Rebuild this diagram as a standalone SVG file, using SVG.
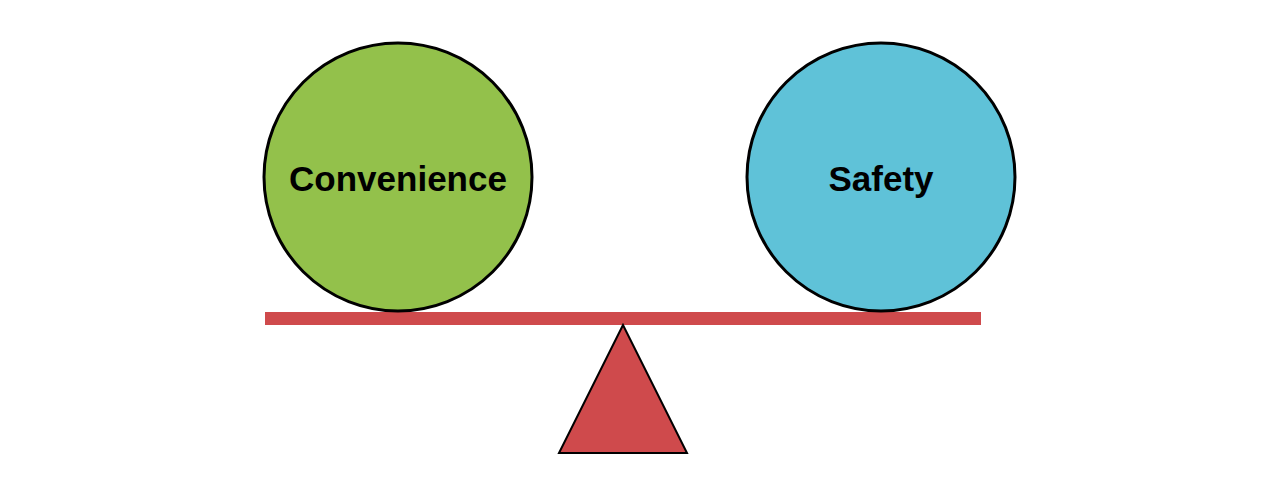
<svg xmlns="http://www.w3.org/2000/svg" width="1280" height="500" viewBox="0 0 1280 500">
<style>
.ball{stroke:#000;stroke-width:3}
.lbl{font-family:"Liberation Sans",Arial,sans-serif;font-weight:bold;font-size:35px;fill:#000;text-anchor:middle}
</style>
<rect width="1280" height="500" fill="#fff"/>
<g id="beam"><rect x="265" y="312" width="716" height="13" fill="#CF4A4C"/></g>
<g id="fulcrum"><polygon points="623,325 559,453 687,453" fill="#CF4A4C" stroke="#000" stroke-width="2" stroke-linejoin="miter"/></g>
<g id="convenience">
<circle class="ball" cx="398" cy="177" r="134" fill="#93C14B"/>
<text class="lbl" x="398" y="191">Convenience</text>
</g>
<g id="safety">
<circle class="ball" cx="881" cy="177" r="134" fill="#5FC2D8"/>
<text class="lbl" x="881" y="191">Safety</text>
</g>
</svg>
